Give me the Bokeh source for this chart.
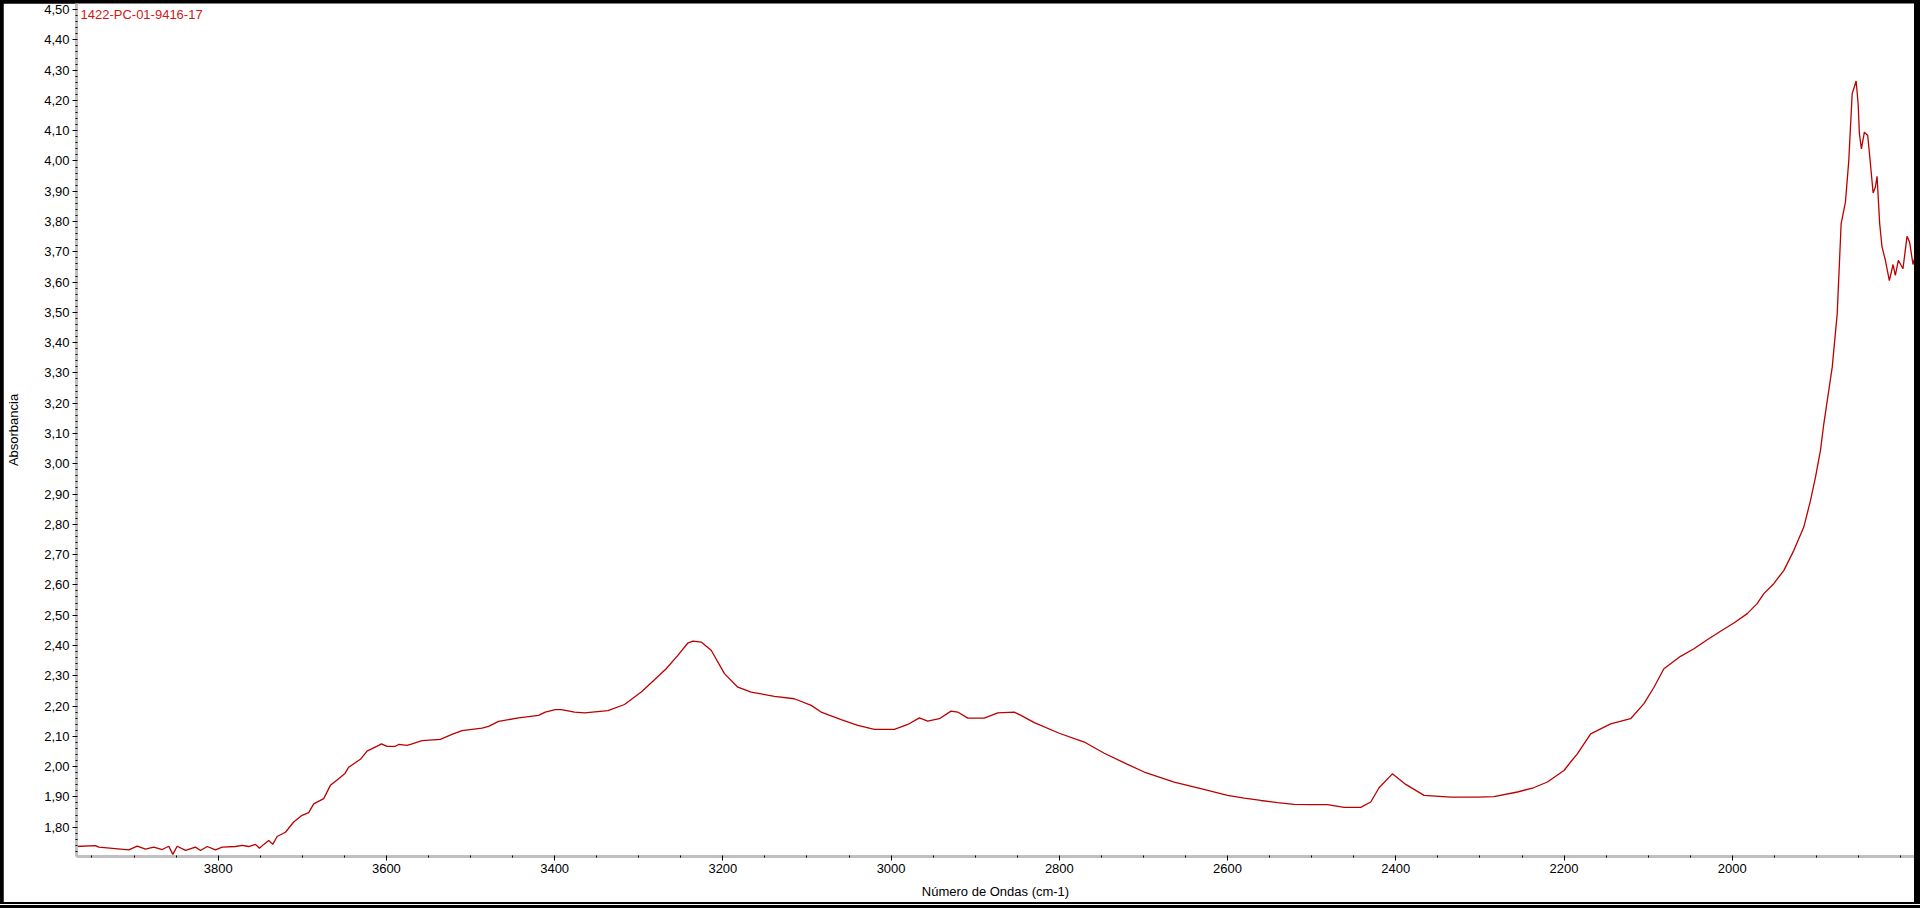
from bokeh.plotting import figure
from bokeh.models import Range1d, FixedTicker, Label, GlobalInlineStyleSheet
from bokeh.embed import file_html
from bokeh.resources import INLINE
import numpy as np

# ---------------- data ----------------
sample_name = "1422-PC-01-9416-17"
x_axis_title = "Número de Ondas (cm-1)"
y_axis_title = "Absorbancia"

wavenumber = [
    3969.5, 3945.8, 3941.9, 3906.2, 3896.2, 3886.4, 3876.5, 3866.5, 3858.7, 3853.9,
    3848.7, 3838.8, 3827.0, 3821.0, 3813.0, 3803.2, 3795.2, 3779.4, 3771.5, 3763.6,
    3755.7, 3750.9, 3745.8, 3739.9, 3735.1, 3729.9, 3720.0, 3710.2, 3700.2, 3692.4,
    3686.4, 3674.5, 3666.6, 3656.7, 3649.6, 3644.8, 3630.9, 3623.0, 3609.2, 3606.0,
    3599.2, 3589.4, 3585.4, 3575.5, 3569.5, 3557.6, 3535.9, 3522.0, 3510.1, 3486.3,
    3478.5, 3466.6, 3442.9, 3419.1, 3411.1, 3399.3, 3392.0, 3376.3, 3364.4, 3336.6,
    3316.9, 3297.0, 3281.3, 3267.4, 3253.5, 3241.6, 3235.7, 3225.8, 3213.9, 3198.1,
    3182.2, 3166.4, 3138.7, 3115.0, 3095.0, 3083.2, 3059.4, 3039.6, 3019.9, 2996.1,
    2980.2, 2966.4, 2956.5, 2942.7, 2928.8, 2920.8, 2908.9, 2889.2, 2873.3, 2853.6,
    2845.6, 2829.8, 2800.1, 2770.4, 2746.6, 2718.9, 2699.1, 2663.5, 2631.8, 2600.0,
    2580.3, 2560.5, 2540.7, 2520.9, 2501.0, 2481.3, 2461.5, 2441.7, 2429.8, 2419.9,
    2404.1, 2388.2, 2366.4, 2334.7, 2303.0, 2283.3, 2255.5, 2236.3, 2219.8, 2200.1,
    2192.2, 2184.2, 2176.3, 2168.4, 2144.6, 2120.9, 2105.0, 2093.1, 2081.3, 2061.5,
    2045.6, 2029.8, 2014.0, 1998.1, 1982.2, 1970.5, 1962.5, 1950.7, 1938.7, 1926.8,
    1915.0, 1907.0, 1901.1, 1895.2, 1891.2, 1881.2, 1875.3, 1872.5, 1870.6, 1865.5,
    1861.5, 1857.5, 1852.8, 1850.4, 1848.9, 1846.5, 1843.0, 1839.0, 1835.8, 1832.6,
    1829.9, 1827.9, 1824.8, 1822.0, 1818.0, 1813.3, 1808.9, 1806.2, 1802.6, 1797.1,
    1792.3, 1789.2, 1785.2, 1782.4,
]
absorbance = [
    1.736, 1.739, 1.734, 1.725, 1.737, 1.727, 1.734, 1.726, 1.737, 1.710,
    1.737, 1.723, 1.734, 1.723, 1.736, 1.725, 1.734, 1.736, 1.740, 1.736,
    1.743, 1.730, 1.743, 1.756, 1.743, 1.769, 1.783, 1.817, 1.839, 1.848,
    1.877, 1.894, 1.938, 1.960, 1.976, 1.998, 2.024, 2.051, 2.070, 2.075,
    2.067, 2.067, 2.073, 2.070, 2.075, 2.086, 2.090, 2.106, 2.119, 2.127,
    2.133, 2.149, 2.161, 2.169, 2.180, 2.188, 2.188, 2.180, 2.177, 2.185,
    2.205, 2.246, 2.287, 2.323, 2.367, 2.408, 2.414, 2.411, 2.384, 2.307,
    2.262, 2.246, 2.232, 2.224, 2.202, 2.180, 2.155, 2.136, 2.123, 2.123,
    2.139, 2.161, 2.150, 2.158, 2.183, 2.180, 2.160, 2.160, 2.177, 2.180,
    2.169, 2.145, 2.110, 2.081, 2.044, 2.007, 1.982, 1.949, 1.927, 1.905,
    1.896, 1.888, 1.881, 1.875, 1.874, 1.874, 1.865, 1.865, 1.883, 1.930,
    1.976, 1.941, 1.905, 1.899, 1.899, 1.901, 1.916, 1.930, 1.949, 1.987,
    2.015, 2.042, 2.075, 2.108, 2.141, 2.158, 2.208, 2.262, 2.323, 2.364,
    2.389, 2.419, 2.447, 2.474, 2.505, 2.538, 2.571, 2.604, 2.648, 2.714,
    2.791, 2.879, 2.956, 3.044, 3.132, 3.319, 3.495, 3.672, 3.793, 3.864,
    4.002, 4.222, 4.264, 4.189, 4.090, 4.040, 4.095, 4.084, 3.991, 3.894,
    3.914, 3.949, 3.793, 3.716, 3.672, 3.605, 3.658, 3.622, 3.672, 3.644,
    3.751, 3.732, 3.658, 3.688,
]

x_major_ticks = [3800, 3600, 3400, 3200, 3000, 2800, 2600, 2400, 2200, 2000]
x_tick_labels = ["3800", "3600", "3400", "3200", "3000", "2800", "2600", "2400", "2200", "2000"]
y_major_ticks = [1.80, 1.90, 2.00, 2.10, 2.20, 2.30, 2.40, 2.50, 2.60, 2.70,
                 2.80, 2.90, 3.00, 3.10, 3.20, 3.30, 3.40, 3.50, 3.60, 3.70,
                 3.80, 3.90, 4.00, 4.10, 4.20, 4.30, 4.40, 4.50]
y_tick_labels = ["1,80", "1,90", "2,00", "2,10", "2,20", "2,30", "2,40", "2,50", "2,60", "2,70",
                 "2,80", "2,90", "3,00", "3,10", "3,20", "3,30", "3,40", "3,50", "3,60", "3,70",
                 "3,80", "3,90", "4,00", "4,10", "4,20", "4,30", "4,40", "4,50"]

x_start, x_end = 3968.4, 1783.4
y_start, y_end = 1.703, 4.520

# ---------------- figure ----------------
W, H = 1911, 899
FONT = "Liberation Sans"
LINE_RED = "#bb0000"
TEXT_RED = "#d01818"

page_css = GlobalInlineStyleSheet(css="""
html { margin: 0 !important; overflow: hidden; background: #000000; }
body { margin: 0 !important; overflow: hidden; padding: 3px 6px 6px 3px;
       box-sizing: border-box; height: 908px; width: 1920px;
       background: linear-gradient(to bottom, #000000 0px, #000000 904px,
                                   #ffffff 904px, #ffffff 905px,
                                   #000000 905px, #000000 908px); }
""")

p = figure(width=W, height=H,
           x_range=Range1d(x_start, x_end), y_range=Range1d(y_start, y_end),
           output_backend="svg", toolbar_location=None,
           min_border_left=72, min_border_right=0, min_border_top=0, min_border_bottom=46,
           background_fill_color="white", border_fill_color="white")
p.stylesheets = [page_css]
p.outline_line_color = None
p.xgrid.visible = False
p.ygrid.visible = False

p.line(wavenumber, absorbance, line_color=LINE_RED, line_width=1.3)

x_minor = [float(v) for v in np.arange(3950, 1750, -50)]
y_minor = [round(float(v), 2) for v in np.arange(1.72, 4.52, 0.02)]
p.xaxis.ticker = FixedTicker(ticks=x_major_ticks, minor_ticks=x_minor)
p.yaxis.ticker = FixedTicker(ticks=y_major_ticks, minor_ticks=y_minor)
p.xaxis.major_label_overrides = dict(zip(x_major_ticks, x_tick_labels))
p.yaxis.major_label_overrides = dict(zip(y_major_ticks, y_tick_labels))

p.xaxis.axis_label = x_axis_title
p.yaxis.axis_label = y_axis_title

for ax in (p.xaxis[0], p.yaxis[0]):
    ax.axis_line_color = "#c0c0c0"
    ax.axis_line_width = 3
    ax.major_tick_line_color = "black"
    ax.major_tick_in = 0
    ax.major_tick_out = 4
    ax.minor_tick_line_color = "black"
    ax.minor_tick_in = 1
    ax.minor_tick_out = 1
    ax.major_label_text_font = FONT
    ax.major_label_text_font_size = "13px"
    ax.major_label_text_color = "black"
    ax.axis_label_text_font = FONT
    ax.axis_label_text_font_size = "13px"
    ax.axis_label_text_font_style = "normal"
    ax.axis_label_text_color = "black"

p.xaxis.major_label_standoff = 3
p.xaxis.axis_label_standoff = 8
p.yaxis.major_label_standoff = 3
p.yaxis.axis_label_standoff = 20

# sample name label, top-left inside the plot area
px_per_x = (W - 72) / (x_start - x_end)
px_per_y = 853 / (y_end - y_start)
p.add_layout(Label(x=x_start - 4 / px_per_x, y=y_end - 3.5 / px_per_y,
                   text=sample_name, text_color=TEXT_RED,
                   text_font=FONT, text_font_size="13px",
                   text_align="left", text_baseline="top"))

open("out.html", "w").write(file_html(p, INLINE))
